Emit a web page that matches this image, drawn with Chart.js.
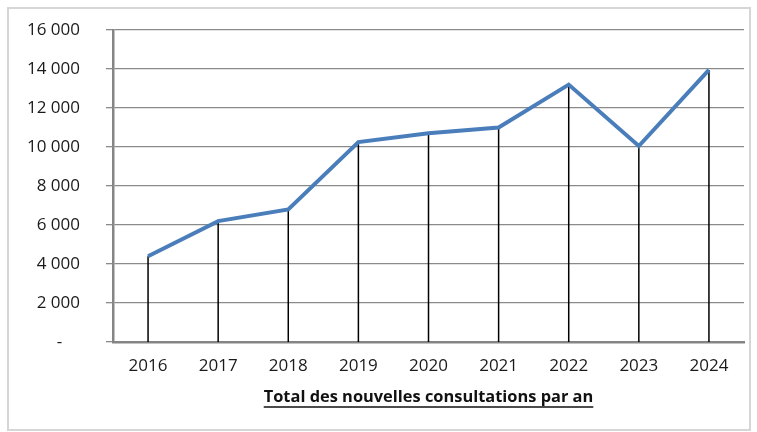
<!DOCTYPE html>
<html>
<head>
<meta charset="utf-8">
<script src="https://cdn.jsdelivr.net/npm/chart.js@4.4.1/dist/chart.umd.min.js"></script>
<style>
  html, body { margin: 0; padding: 0; background: #ffffff; }
  #frame { position: absolute; left: 7px; top: 7px; width: 740px; height: 420px; border: 2px solid #d6d6d6; }
  #wrap { position: absolute; left: 0; top: 0; width: 757px; height: 432px; }
</style>
</head>
<body>
<div id="frame"></div>
<div id="wrap"><canvas id="c" width="757" height="432"></canvas></div>
<script>
const categories = ['2016', '2017', '2018', '2019', '2020', '2021', '2022', '2023', '2024'];
const consultations = [4400, 6200, 6800, 10250, 10700, 11000, 13200, 10050, 13950];
const yTicks = [0, 2000, 4000, 6000, 8000, 10000, 12000, 14000, 16000];
const titleText = 'Total des nouvelles consultations par an';

const FONT = '"Open Sans", "DejaVu Sans", sans-serif';

function fmt(v) {
  if (v === 0) return '-    ';
  return String(v).replace(/\B(?=(\d{3})+(?!\d))/g, ' ');
}

const dropLines = {
  id: 'dropLines',
  beforeDatasetsDraw(chart) {
    const ctx = chart.ctx;
    const y0 = chart.scales.y.getPixelForValue(0);
    const meta = chart.getDatasetMeta(0);
    ctx.save();
    ctx.strokeStyle = '#000000';
    ctx.lineWidth = 1.5;
    meta.data.forEach(pt => {
      ctx.beginPath();
      ctx.moveTo(pt.x, pt.y);
      ctx.lineTo(pt.x, y0);
      ctx.stroke();
    });
    ctx.restore();
  }
};

const underTitle = {
  id: 'underTitle',
  afterDraw(chart) {
    const ctx = chart.ctx;
    const a = chart.chartArea;
    const cx = (a.left + a.right) / 2;
    const y = 397;
    ctx.save();
    ctx.font = 'bold 16.4px ' + FONT;
    ctx.fillStyle = '#111111';
    ctx.textAlign = 'center';
    ctx.textBaseline = 'middle';
    ctx.fillText(titleText, cx, y);
    const w = ctx.measureText(titleText).width;
    ctx.strokeStyle = '#111111';
    ctx.lineWidth = 1.3;
    ctx.beginPath();
    ctx.moveTo(cx - w / 2, y + 10);
    ctx.lineTo(cx + w / 2, y + 10);
    ctx.stroke();
    ctx.restore();
  }
};

new Chart(document.getElementById('c'), {
  type: 'line',
  data: {
    labels: categories,
    datasets: [{
      data: consultations,
      borderColor: '#4a7ebb',
      borderWidth: 4,
      pointRadius: 0,
      tension: 0,
      fill: false
    }]
  },
  options: {
    responsive: false,
    animation: false,
    devicePixelRatio: 1,
    layout: { padding: { left: 0, right: 13, top: 30, bottom: 0 } },
    plugins: { legend: { display: false }, tooltip: { enabled: false }, title: { display: false } },
    scales: {
      x: {
        type: 'category',
        offset: true,
        grid: { display: false, drawTicks: true, tickLength: 8 },
        border: { display: true, color: '#858585', width: 2.5 },
        ticks: { color: '#1a1a1a', font: { family: FONT, size: 17 }, padding: 6, maxRotation: 0 },
        afterFit(scale) { scale.height = 90; scale.paddingLeft = 0; scale.paddingRight = 0; }
      },
      y: {
        min: 0,
        max: 16000,
        afterBuildTicks(scale) { scale.ticks = yTicks.map(v => ({ value: v })); },
        grid: { color: '#8a8a8a', lineWidth: 1.3, drawTicks: true, tickLength: 7 },
        border: { display: true, color: '#858585', width: 2.5 },
        ticks: { color: '#1a1a1a', font: { family: FONT, size: 17 }, padding: 26, callback: v => fmt(v) },
        afterFit(scale) { scale.width = 113; scale.paddingTop = 0; scale.paddingBottom = 0; }
      }
    }
  },
  plugins: [dropLines, underTitle]
});
</script>
</body>
</html>
